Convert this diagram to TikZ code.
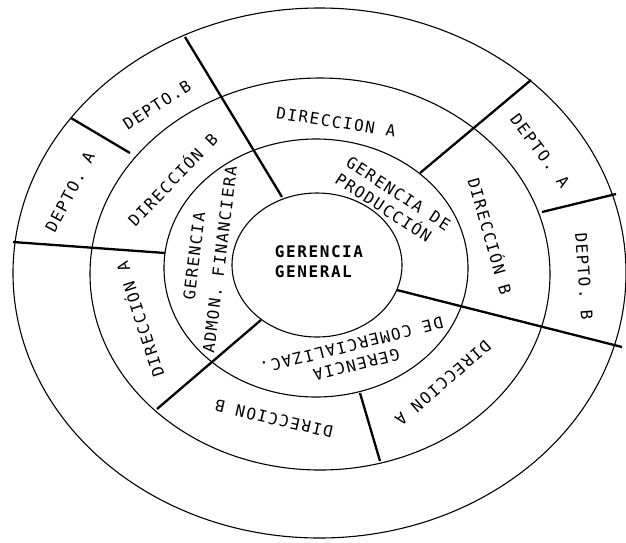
\documentclass[tikz,border=0pt]{standalone}
\usepackage{fontspec}
\newfontfamily\lettering[LetterSpace=10]{DejaVu Sans Mono}

\begin{document}
\begin{tikzpicture}[
  x=1pt, y=-1pt,
  font=\lettering\fontsize{16}{20}\selectfont,
  ring/.style={draw, line width=1.1pt},
  cut/.style={draw, line width=2.3pt},
  lbl/.style={inner sep=0pt, align=center},
]
\useasboundingbox (0,0) rectangle (626,542);

\draw[ring] (319.5,273) ellipse [x radius=306.5, y radius=265];
\draw[ring] (320,274) ellipse [x radius=230, y radius=196];
\draw[ring] (316,268) ellipse [x radius=152, y radius=129];
\draw[ring] (317,265) ellipse [x radius=85, y radius=72];

\draw[cut] (282,197) -- (185,37);
\draw[cut] (397,290) -- (622,347);
\draw[cut] (261,320) -- (157,409);
\draw[cut] (420,173) -- (531,80);
\draw[cut] (165,253) -- (13,242);
\draw[cut] (360,393) -- (380,461);
\draw[cut] (130,153) -- (71,118);
\draw[cut] (542,212) -- (616,194);

\node[lbl, align=left, font=\lettering\bfseries\fontsize{16}{20}\selectfont] (gg) at (319,262) {GERENCIA\\GENERAL};
\node[lbl, align=left, rotate=-33] (gp) at (393,202) {GERENCIA DE\\PRODUCCIÓN};
\node[lbl, rotate=-166] (gc) at (354,355) {GERENCIA\\DE COMERCIALIZAC.};
\node[lbl, rotate=83] (ga) at (207,258) {GERENCIA\\[6pt]ADMON. FINANCIERA};

\node[lbl, rotate=-9] (dirA1) at (336,122) {DIRECCION A};
\node[lbl, rotate=-74] (dirB1) at (491,236) {DIRECCIÓN B};
\node[lbl, rotate=-139] (dirA2) at (443,383) {DIRECCION A};
\node[lbl, rotate=167] (dirB2) at (274,419) {DIRECCION B};
\node[lbl, rotate=108] (dirA3) at (139,320) {DIRECCIÓN A};
\node[lbl, rotate=46] (dirB3) at (172,179) {DIRECCIÓN B};

\node[lbl, rotate=-53] (depA1) at (540,151) {DEPTO. A};
\node[lbl, rotate=-86] (depB1) at (584,276) {DEPTO. B};
\node[lbl, rotate=62] (depA2) at (70,192) {DEPTO. A};
\node[lbl, rotate=33] (depB2) at (157,105) {DEPTO.B};
\end{tikzpicture}
\end{document}
